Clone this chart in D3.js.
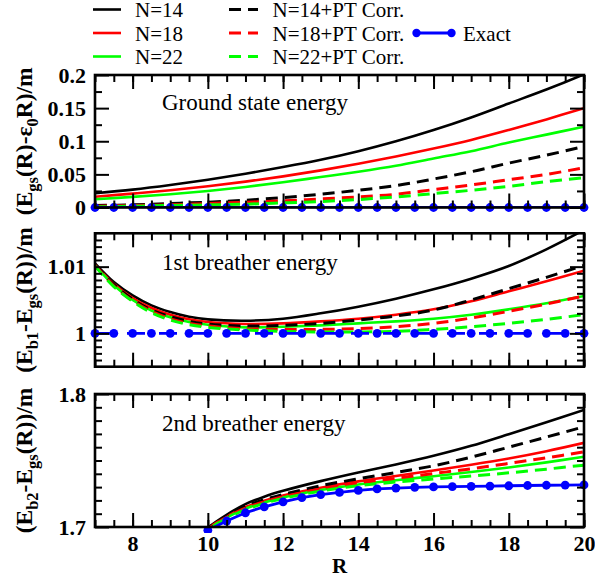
<!DOCTYPE html>
<html>
<head>
<meta charset="utf-8">
<script src="https://cdn.jsdelivr.net/npm/d3@7"></script>
<style>
  body { margin: 0; background: #fff; }
  svg { display: block; }
  svg text { font-family: "Liberation Serif", Tinos, "Times New Roman", serif; fill: #000; }
</style>
</head>
<body>
<svg id="chart" width="595" height="582"></svg>
<script>
// ---------- data ----------
const R_INT = [7, 8, 9, 10, 11, 12, 13, 14, 15, 16, 17, 18, 19, 20];
const R_HALF = [7, 7.5, 8, 8.5, 9, 9.5, 10, 10.5, 11, 11.5, 12, 12.5, 13, 13.5,
                14, 14.5, 15, 15.5, 16, 16.5, 17, 17.5, 18, 18.5, 19, 19.5, 20];

// ground state energy (E_gs - eps0 R)/m
const gsN14   = [0.0214, 0.027, 0.034, 0.042, 0.051, 0.061, 0.072, 0.085, 0.100, 0.117, 0.136, 0.157, 0.178, 0.201];
const gsN18   = [0.0163, 0.021, 0.026, 0.032, 0.039, 0.047, 0.056, 0.066, 0.077, 0.089, 0.102, 0.117, 0.133, 0.150];
const gsN22   = [0.0124, 0.016, 0.020, 0.025, 0.031, 0.038, 0.046, 0.054, 0.063, 0.074, 0.085, 0.098, 0.110, 0.122];
const gsN14pt = [0.003, 0.004, 0.006, 0.008, 0.011, 0.015, 0.020, 0.026, 0.033, 0.043, 0.054, 0.067, 0.079, 0.092];
const gsN18pt = [0.002, 0.003, 0.004, 0.006, 0.008, 0.010, 0.013, 0.016, 0.020, 0.027, 0.034, 0.042, 0.050, 0.060];
const gsN22pt = [0.001, 0.002, 0.003, 0.004, 0.005, 0.007, 0.009, 0.012, 0.016, 0.021, 0.026, 0.032, 0.039, 0.045];
const gsExact = [0, 0, 0, 0, 0, 0, 0, 0, 0, 0, 0, 0, 0, 0, 0, 0, 0, 0, 0, 0, 0, 0, 0, 0, 0, 0, 0];

// first breather (E_b1 - E_gs)/m
const R_B1 = [7, 7.5, 8, 8.5, 9, 9.5, 10, 11, 12, 13, 14, 15, 16, 17, 18, 19, 20];
const b1N14   = [1.0105, 1.0077, 1.0057, 1.0042, 1.0032, 1.0025, 1.0021, 1.0019, 1.0022, 1.0030, 1.0040, 1.0052, 1.0066, 1.0082, 1.0101, 1.0126, 1.0155];
const b1N18   = [1.0103, 1.0074, 1.0053, 1.0038, 1.0028, 1.0021, 1.0017, 1.0014, 1.0015, 1.0018, 1.0022, 1.0028, 1.0036, 1.0048, 1.0063, 1.0078, 1.0094];
const b1N22   = [1.0102, 1.0072, 1.0050, 1.0034, 1.0024, 1.0017, 1.0013, 1.0009, 1.0010, 1.0012, 1.0015, 1.0018, 1.0022, 1.0028, 1.0036, 1.0045, 1.0056];
const b1N14pt = [1.0103, 1.0073, 1.0051, 1.0035, 1.0025, 1.0018, 1.0014, 1.0011, 1.0012, 1.0015, 1.0020, 1.0026, 1.0035, 1.0050, 1.0067, 1.0084, 1.0102];
const b1N18pt = [1.0102, 1.0071, 1.0049, 1.0033, 1.0022, 1.0015, 1.0011, 1.0007, 1.0006, 1.0006, 1.0007, 1.0010, 1.0015, 1.0023, 1.0033, 1.0044, 1.0056];
const b1N22pt = [1.0101, 1.0070, 1.0048, 1.0031, 1.0020, 1.0013, 1.0009, 1.0005, 1.0003, 1.0002, 1.0002, 1.0003, 1.0006, 1.0010, 1.0015, 1.0021, 1.0028];
const b1Exact = [1, 1, 1, 1, 1, 1, 1, 1, 1, 1, 1, 1, 1, 1, 1, 1, 1, 1, 1, 1, 1, 1, 1, 1, 1, 1, 1];

// second breather (E_b2 - E_gs)/m
const R_B2 = [9.5, 10, 10.5, 11, 11.5, 12, 13, 14, 15, 16, 17, 18, 19, 20];
const b2N14   = [1.687, 1.6995, 1.7092, 1.7172, 1.7228, 1.7272, 1.7345, 1.7410, 1.7470, 1.7535, 1.7610, 1.7698, 1.7788, 1.7880];
const b2N18   = [1.686, 1.6990, 1.7078, 1.7150, 1.7198, 1.7237, 1.7295, 1.7343, 1.7384, 1.7425, 1.7468, 1.7515, 1.7570, 1.7633];
const b2N22   = [1.6855, 1.6980, 1.7070, 1.7138, 1.7185, 1.7222, 1.7278, 1.7320, 1.7352, 1.7382, 1.7413, 1.7448, 1.7486, 1.7528];
const b2N14pt = [1.686, 1.6990, 1.7080, 1.7155, 1.7205, 1.7245, 1.7310, 1.7362, 1.7410, 1.7460, 1.7525, 1.7600, 1.7676, 1.7754];
const b2N18pt = [1.6855, 1.6985, 1.7073, 1.7142, 1.7190, 1.7228, 1.7285, 1.7330, 1.7366, 1.7402, 1.7438, 1.7478, 1.7520, 1.7565];
const b2N22pt = [1.685, 1.6975, 1.7065, 1.7130, 1.7178, 1.7215, 1.7270, 1.7310, 1.7338, 1.7361, 1.7383, 1.7407, 1.7435, 1.7465];
const R_B2_EXACT = [10, 10.5, 11, 11.5, 12, 12.5, 13, 13.5, 14, 14.5, 15, 15.5, 16, 16.5,
                    17, 17.5, 18, 18.5, 19, 19.5, 20];
const b2Exact = [1.6975, 1.7045, 1.7107, 1.7152, 1.7189, 1.7221, 1.7244, 1.7260, 1.7275, 1.7286, 1.7293,
                 1.7298, 1.7301, 1.7304, 1.7306, 1.7308, 1.7310, 1.7312, 1.7314, 1.7315, 1.7316];

// axis ticks
const X_MAJOR = [8, 10, 12, 14, 16, 18, 20];
const X_MINOR = R_HALF;
const Y1_MAJOR = [0, 0.05, 0.1, 0.15, 0.2];
const Y1_MINOR = [0.025, 0.075, 0.125, 0.175];
const Y2_MAJOR = [1, 1.01];
const Y2_MINOR = [0.996, 0.997, 0.998, 0.999, 1.001, 1.002, 1.003, 1.004, 1.005, 1.006, 1.007,
                  1.008, 1.009, 1.011, 1.012, 1.013, 1.014];
const Y3_MAJOR = [1.7, 1.8];
const Y3_MINOR = [1.71, 1.72, 1.73, 1.74, 1.75, 1.76, 1.77, 1.78, 1.79];

const seriesNames = ["N=14", "N=18", "N=22", "N=14+PT Corr.", "N=18+PT Corr.", "N=22+PT Corr.", "Exact"];
const seriesColors = ["#000000", "#ff0000", "#00ff00", "#000000", "#ff0000", "#00ff00", "#0000ff"];

// ---------- layout ----------
const FONT = '"Liberation Serif", Tinos, "Times New Roman", serif';
const svg = d3.select("#chart");
const X0 = 95, X1 = 584;
const x = d3.scaleLinear().domain([7, 20]).range([X0, X1]);

const panels = [
  { id: "gs", top: 75, bottom: 207.5, domain: [0, 0.2], major: Y1_MAJOR, minor: Y1_MINOR,
    title: "Ground state energy", titleY: 109.5,
    label: [["(E", ""], ["gs", "sub"], ["(R)-ε", ""], ["0", "sub"], ["R)/m", ""]],
    xs: R_INT, curves: [gsN14, gsN18, gsN22, gsN14pt, gsN18pt, gsN22pt],
    exactX: R_HALF, exact: gsExact, exactDash: null },
  { id: "b1", top: 233.3, bottom: 366.7, domain: [0.995, 1.015], major: Y2_MAJOR, minor: Y2_MINOR,
    title: "1st breather energy", titleY: 269.5,
    label: [["(E", ""], ["b1", "sub"], ["-E", ""], ["gs", "sub"], ["(R))/m", ""]],
    xs: R_B1, curves: [b1N14, b1N18, b1N22, b1N14pt, b1N18pt, b1N22pt],
    exactX: R_HALF, exact: b1Exact, exactDash: "18,14" },
  { id: "b2", top: 394, bottom: 527, domain: [1.7, 1.8], major: Y3_MAJOR, minor: Y3_MINOR,
    title: "2nd breather energy", titleY: 431,
    label: [["(E", ""], ["b2", "sub"], ["-E", ""], ["gs", "sub"], ["(R))/m", ""]],
    xs: R_B2, curves: [b2N14, b2N18, b2N22, b2N14pt, b2N18pt, b2N22pt],
    exactX: R_B2_EXACT, exact: b2Exact, exactDash: null }
];

const MAJOR_LEN = 14, MINOR_LEN = 7;
const TICK_FONT = 22;

panels.forEach((p, pi) => {
  const y = d3.scaleLinear().domain(p.domain).range([p.bottom, p.top]);
  const g = svg.append("g");

  // clip region for curves
  const clipId = "clip-" + p.id;
  svg.append("clipPath").attr("id", clipId)
    .append("rect").attr("x", X0).attr("y", p.top).attr("width", X1 - X0).attr("height", p.bottom - p.top);

  const plot = g.append("g").attr("clip-path", `url(#${clipId})`);
  const line = d3.line().x(d => x(d[0])).y(d => y(d[1])).curve(d3.curveCatmullRom.alpha(0.5));

  // finite-size curves: solid first, then PT-corrected dashed
  p.curves.forEach((vals, i) => {
    plot.append("path")
      .datum(p.xs.map((r, k) => [r, vals[k]]))
      .attr("d", line)
      .attr("fill", "none")
      .attr("stroke", seriesColors[i])
      .attr("stroke-width", i < 3 ? 2.6 : 3)
      .attr("stroke-dasharray", i < 3 ? null : "12,7");
  });

  // exact result
  const exactPts = p.exactX.map((r, k) => [r, p.exact[k]]);
  plot.append("path")
    .datum(exactPts)
    .attr("d", d3.line().x(d => x(d[0])).y(d => y(d[1])))
    .attr("fill", "none")
    .attr("stroke", "#0000ff")
    .attr("stroke-width", 2.8)
    .attr("stroke-dasharray", p.exactDash);
  const dotClip = "dclip-" + p.id;
  svg.append("clipPath").attr("id", dotClip)
    .append("rect").attr("x", X0 - 6).attr("y", p.top).attr("width", X1 - X0 + 12).attr("height", p.bottom - p.top + 6);
  g.append("g").attr("clip-path", `url(#${dotClip})`)
    .selectAll("circle").data(exactPts).join("circle")
    .attr("cx", d => x(d[0])).attr("cy", d => y(d[1])).attr("r", 4.4)
    .attr("fill", "#0000ff");

  // ticks on all four sides, pointing inward
  const tickStyle = sel => {
    sel.attr("font-family", FONT);
    sel.select(".domain").remove();
    sel.selectAll("line").attr("stroke", "#000").attr("stroke-width", 2);
    sel.selectAll("text").attr("font-size", TICK_FONT).attr("font-weight", "bold")
      .attr("font-family", FONT).attr("fill", "#000");
  };
  const fmt = d => String(+d.toFixed(4));

  g.append("g").attr("transform", `translate(0,${p.bottom})`)
    .call(d3.axisBottom(x).tickValues(X_MINOR).tickSize(-MINOR_LEN).tickFormat("")).call(tickStyle);
  g.append("g").attr("transform", `translate(0,${p.bottom})`)
    .call(d3.axisBottom(x).tickValues(X_MAJOR).tickSize(-MAJOR_LEN).tickPadding(8)
      .tickFormat(pi === 2 ? fmt : "")).call(tickStyle);
  g.append("g").attr("transform", `translate(0,${p.top})`)
    .call(d3.axisTop(x).tickValues(X_MINOR).tickSize(-MINOR_LEN).tickFormat("")).call(tickStyle);
  g.append("g").attr("transform", `translate(0,${p.top})`)
    .call(d3.axisTop(x).tickValues(X_MAJOR).tickSize(-MAJOR_LEN).tickFormat("")).call(tickStyle);

  g.append("g").attr("transform", `translate(${X0},0)`)
    .call(d3.axisLeft(y).tickValues(p.minor).tickSize(-MINOR_LEN).tickFormat("")).call(tickStyle);
  g.append("g").attr("transform", `translate(${X0},0)`)
    .call(d3.axisLeft(y).tickValues(p.major).tickSize(-MAJOR_LEN).tickPadding(9).tickFormat(fmt)).call(tickStyle);
  g.append("g").attr("transform", `translate(${X1},0)`)
    .call(d3.axisRight(y).tickValues(p.minor).tickSize(-MINOR_LEN).tickFormat("")).call(tickStyle);
  g.append("g").attr("transform", `translate(${X1},0)`)
    .call(d3.axisRight(y).tickValues(p.major).tickSize(-MAJOR_LEN).tickFormat("")).call(tickStyle);

  // frame
  g.append("rect").attr("x", X0).attr("y", p.top).attr("width", X1 - X0).attr("height", p.bottom - p.top)
    .attr("fill", "none").attr("stroke", "#000").attr("stroke-width", 2.6);

  // panel title
  g.append("text").attr("x", 162).attr("y", p.titleY).attr("font-size", 23)
    .attr("font-family", FONT).text(p.title);

  // rotated y-axis label with subscripts
  const cy = (p.top + p.bottom) / 2;
  const lab = g.append("text")
    .attr("transform", `translate(32,${cy}) rotate(-90)`)
    .attr("text-anchor", "middle")
    .attr("font-family", FONT)
    .attr("font-size", 23.5).attr("font-weight", "bold");
  let shifted = false;
  p.label.forEach(([t, kind]) => {
    const ts = lab.append("tspan").text(t);
    if (kind === "sub") { ts.attr("font-size", 16.5).attr("dy", shifted ? 0 : 6); shifted = true; }
    else { if (shifted) ts.attr("dy", -6); shifted = false; }
  });
});

// x-axis title
svg.append("text").attr("x", (X0 + X1) / 2).attr("y", 573).attr("text-anchor", "middle")
  .attr("font-family", FONT).attr("font-size", 21).attr("font-weight", "bold").text("R");

// ---------- legend ----------
const legend = svg.append("g").attr("font-family", FONT);
const rowY = [9.5, 33, 56.5];
const legendItems = [
  { col: 0, row: 0, s: 0 }, { col: 0, row: 1, s: 1 }, { col: 0, row: 2, s: 2 },
  { col: 1, row: 0, s: 3 }, { col: 1, row: 1, s: 4 }, { col: 1, row: 2, s: 5 },
  { col: 2, row: 1, s: 6 }
];
const colX = [[93, 121, 135], [229, 258, 272.5], [416.5, 451.5, 463]];
legendItems.forEach(it => {
  const [xa, xb, xt] = colX[it.col];
  const yy = rowY[it.row];
  legend.append("line").attr("x1", xa).attr("x2", xb).attr("y1", yy).attr("y2", yy)
    .attr("stroke", seriesColors[it.s]).attr("stroke-width", it.col === 2 ? 2.8 : (it.col === 1 ? 3 : 2.6))
    .attr("stroke-dasharray", it.col === 1 ? "12,7" : null);
  if (it.col === 2) {
    [xa, xb].forEach(cx => legend.append("circle").attr("cx", cx).attr("cy", yy).attr("r", 4.2).attr("fill", "#0000ff"));
  }
  legend.append("text").attr("x", xt).attr("y", yy + 7.5).attr("font-size", 21)
    .attr("font-family", FONT).text(seriesNames[it.s]);
});
</script>
</body>
</html>
